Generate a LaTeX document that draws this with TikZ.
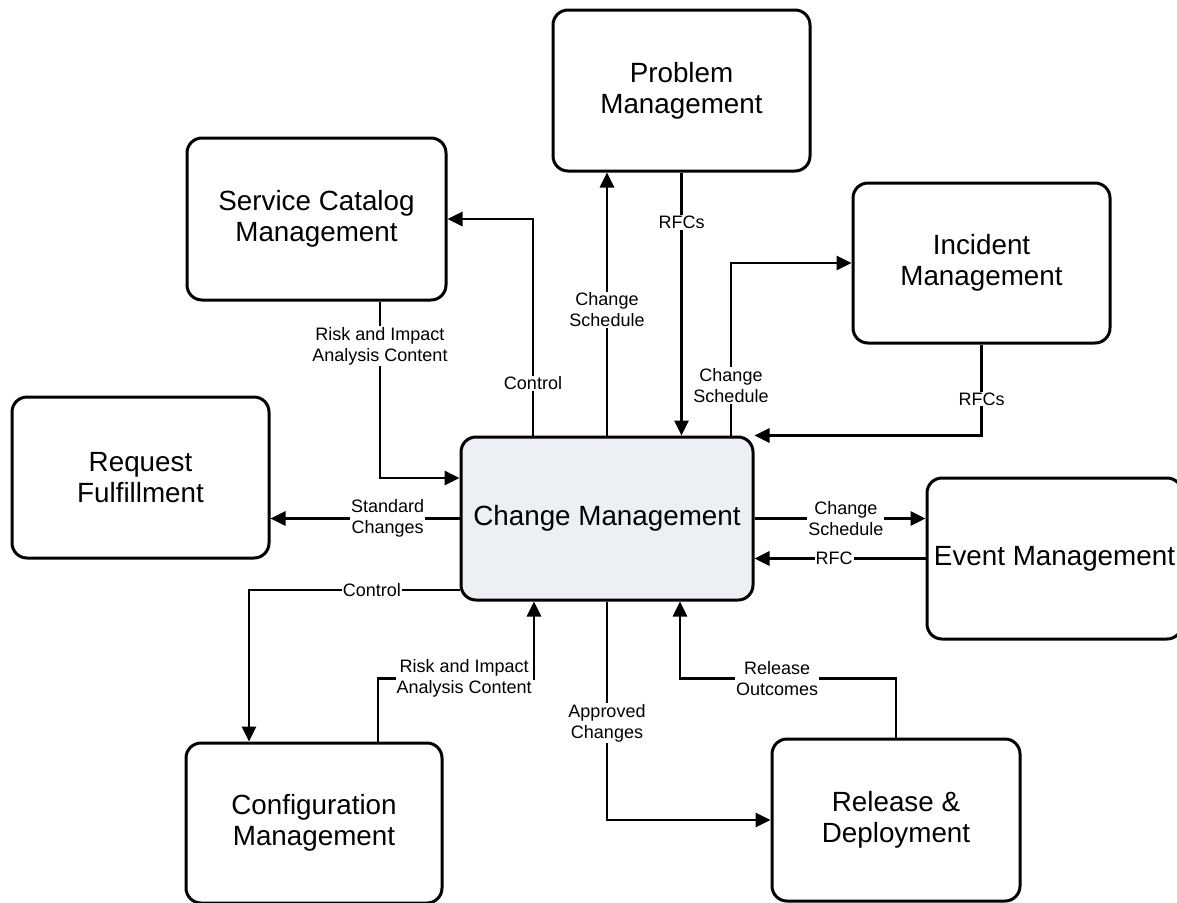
\documentclass[tikz,border=0pt]{standalone}
\usepackage{fontspec}
\setmainfont{Liberation Sans}
\usetikzlibrary{arrows.meta}
\definecolor{cmfill}{RGB}{236,239,244}
\tikzset{
  proc/.style={draw=black, line width=3pt, rounded corners=15pt, fill=white,
    align=center, font=\fontsize{27.8}{31}\selectfont, inner sep=0pt},
  flow/.style={draw=black, line width=2.8pt},
  arr/.style={flow, -{Triangle[length=15pt,width=14pt]}},
  lbl/.style={fill=white, inner sep=1pt, align=center,
    font=\fontsize{18}{21}\selectfont}
}
\begin{document}
\begin{tikzpicture}[x=1pt,y=-1pt]
\useasboundingbox (0,0) rectangle (1177,902);

% processes
\node[proc, fill=cmfill, minimum width=292pt, minimum height=163pt] (cm) at (607,518.5) {Change Management};
\node[proc, minimum width=259pt, minimum height=162pt] (sc) at (316.5,219) {Service Catalog\\Management};
\node[proc, minimum width=257pt, minimum height=161pt] (pm) at (681.5,90.5) {Problem\\Management};
\node[proc, minimum width=257pt, minimum height=160pt] (im) at (981.5,263) {Incident\\Management};
\node[proc, minimum width=255pt, minimum height=161pt] (em) at (1054.5,558.5) {Event Management};
\node[proc, minimum width=257pt, minimum height=161pt] (rf) at (140.5,477.5) {Request\\Fulfillment};
\node[proc, minimum width=256pt, minimum height=160pt] (cfm) at (314,823) {Configuration\\Management};
\node[proc, minimum width=248pt, minimum height=162pt] (rd) at (896,820) {Release \&\\Deployment};

% flows above Change Management
\draw[arr] ([xshift=-74pt]cm.north) |- node[lbl, pos=0.12] {Control} (sc.east);
\draw[arr] (cm.north) -- node[lbl, pos=0.477] {Change\\Schedule} (cm.north |- pm.south);
\draw[arr] (pm.south) -- node[lbl, pos=0.19] {RFCs} (pm.south |- cm.north);
\draw[arr] ([xshift=124pt]cm.north) |- node[lbl, pos=0.145] {Change\\Schedule} (im.west);
\draw[arr] (im.south) |- node[lbl, pos=0.30] {RFCs} (cm.north east);

% flows on the left
\draw[arr] ([xshift=63.5pt]sc.south) |- node[lbl, pos=0.126] {Risk and Impact\\Analysis Content} ([yshift=40.5pt]cm.west);
\draw[arr] (cm.west) -- node[lbl, pos=0.38] {Standard\\Changes} (rf.east |- cm.west);
\draw[arr] ([yshift=-71.5pt]cm.west) -| node[lbl, pos=0.208] {Control} ([xshift=-65pt]cfm.north);
\draw[arr] ([xshift=64pt]cfm.north) -- ++(0,-63) -| node[lbl, pos=0.276] {Risk and Impact\\Analysis Content} ([xshift=-73pt]cm.south);

% flows below and on the right
\draw[arr] (cm.south) |- node[lbl, pos=0.278] {Approved\\Changes} (rd.west);
\draw[arr] (rd.north) -- ++(0,-59) -| node[lbl, pos=0.275] {Release\\Outcomes} ([xshift=73pt]cm.south);
\draw[arr] (cm.east) -- node[lbl, pos=0.534] {Change\\Schedule} (cm.east -| em.west);
\draw[arr] (em.west) -- node[lbl, pos=0.534] {RFC} (em.west -| cm.east);
\end{tikzpicture}
\end{document}
